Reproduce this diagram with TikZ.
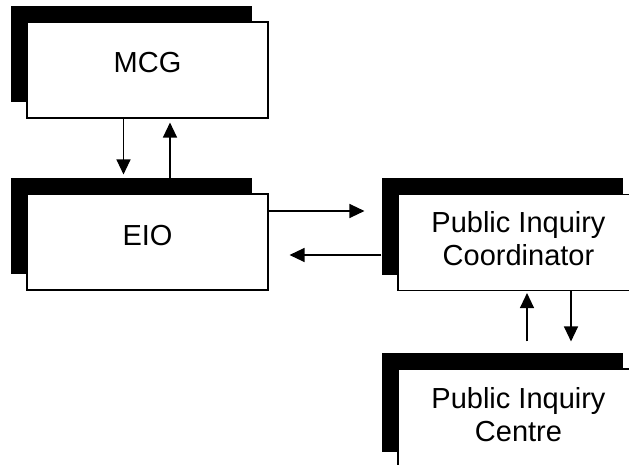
\documentclass[tikz,border=0pt]{standalone}
\usepackage{fontspec}
\setmainfont{Liberation Sans}
\usetikzlibrary{shadows,arrows.meta}
\begin{document}
\begin{tikzpicture}[x=1pt,y=1pt,
  box/.style={draw=black, line width=1.1pt, fill=white,
    minimum width=241pt, minimum height=96pt, inner sep=0pt,
    align=center, font=\fontsize{29}{34}\selectfont,
    general shadow={fill=black, shadow xshift=-16pt, shadow yshift=16pt}},
  arr/.style={line width=1.2pt, -{Triangle[length=15pt,width=14pt]}}]
\useasboundingbox (0,0) rectangle (629,464);
\clip (0,0) rectangle (629,464);
\node[box] (mcg) at (147.5,394) {\raisebox{-2.5pt}[0pt][0pt]{MCG}};
\node[box] (eio) at (147.5,222) {\raisebox{-3.5pt}[0pt][0pt]{EIO}};
\node[box] (pic) at (518.5,221.5) {\raisebox{2pt}{\begin{tabular}{@{}c@{}}Public Inquiry\\[-1pt]Coordinator\end{tabular}}};
\node[box, minimum height=99pt] (pce) at (518.5,45.5) {\raisebox{5pt}{\begin{tabular}{@{}c@{}}Public Inquiry\\[-1pt]Centre\end{tabular}}};
% MCG <-> EIO
\draw[arr] ([xshift=-24pt]mcg.south) -- ([xshift=-24pt,yshift=19pt]eio.north);
\draw[arr] ([xshift=22.5pt,yshift=15pt]eio.north) -- ([xshift=22.5pt,yshift=-4pt]mcg.south);
% EIO <-> PIC
\draw[arr] ([yshift=31pt]eio.east) -- ([yshift=31.5pt,xshift=-33pt]pic.west);
\draw[arr] ([yshift=-12.5pt,xshift=-16pt]pic.west) -- ([yshift=-13pt,xshift=21pt]eio.east);
% PIC <-> PCE
\draw[arr] ([xshift=8.5pt,yshift=27pt]pce.north) -- ([xshift=8.5pt,yshift=-2pt]pic.south);
\draw[arr] ([xshift=52.5pt]pic.south) -- ([xshift=52.5pt,yshift=27pt]pce.north);
\end{tikzpicture}
\end{document}
